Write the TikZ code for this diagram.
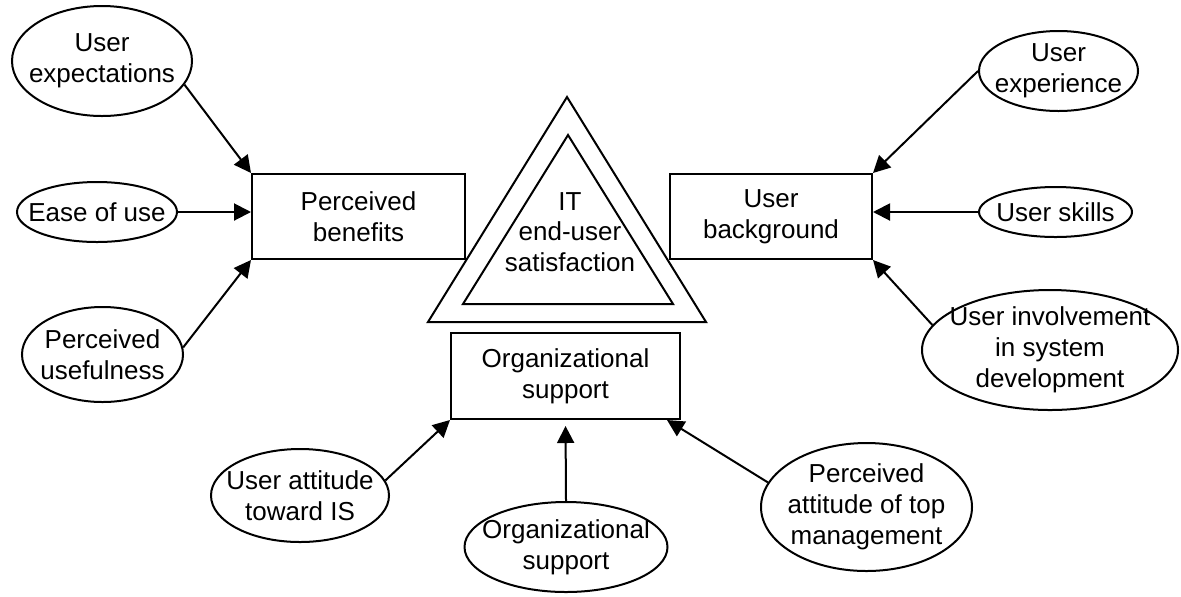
\documentclass[tikz,border=0pt]{standalone}
\usepackage{fontspec}
\setmainfont{Liberation Sans}
\usetikzlibrary{shapes.geometric,arrows.meta}

\begin{document}
\begin{tikzpicture}[x=0.5pt,y=-0.5pt,line width=1pt,
    font=\fontsize{13}{15.4}\selectfont,
    box/.style={draw,rectangle,align=center,inner sep=0pt},
    ell/.style={draw,ellipse,inner sep=0pt},
    every label/.style={align=center,inner sep=0pt,draw=none},
    arr/.style={-{Triangle[length=8.5pt,width=8.5pt]}}]
    \useasboundingbox (0,0) rectangle (1181,596);

    \draw (567,97) -- (428,322) -- (706,322) -- cycle;
    \draw (568,135) -- (463,304) -- (673,304) -- cycle;
    \node[align=center] (sat) at (570,232) {IT\\end-user\\satisfaction};

    \node[box,minimum width=106.5pt,minimum height=42.5pt] (pb) at (358.5,216.5) {Perceived\\benefits};
    \node[box,minimum width=101pt,minimum height=42.5pt] (ub) at (771,216.5) {User\\background};
    \node[box,minimum width=114.5pt,minimum height=43pt] (ob) at (565.5,376) {Organizational\\support};

    \node[ell,minimum width=90pt,minimum height=55pt,label=center:{User\\expectations}] (ue) at (102,61) {};
    \node[ell,minimum width=80pt,minimum height=30pt,label=center:{Ease of use}] (eou) at (97,212) {};
    \node[ell,minimum width=80.5pt,minimum height=47.5pt,label=center:{Perceived\\usefulness}] (pu) at (102.5,354.5) {};
    \node[ell,minimum width=79.5pt,minimum height=40pt,label=center:{User\\experience}] (ux) at (1058.5,71) {};
    \node[ell,minimum width=76.5pt,minimum height=25pt,label=center:{User skills}] (us) at (1055.5,212) {};
    \node[ell,minimum width=128pt,minimum height=60pt,label=center:{User involvement\\in system\\development}] (ui) at (1050,350) {};
    \node[ell,minimum width=89pt,minimum height=46.5pt,label=center:{User attitude\\toward IS}] (ua) at (300,495.5) {};
    \node[ell,minimum width=101.5pt,minimum height=45pt,label=center:{Organizational\\support}] (os) at (566,547) {};
    \node[ell,minimum width=105.5pt,minimum height=64pt,label=center:{Perceived\\attitude of top\\management}] (pa) at (866.5,507) {};

    \draw[arr] (ue.-16) -- (pb.north west);
    \draw[arr] (eou.east) -- (pb.west |- eou.east);
    \draw[arr] (pu.5) -- (pb.south west);
    \draw[arr] (ux.west) -- (ub.north east);
    \draw[arr] (us.west) -- (ub.east |- us.west);
    \draw[arr] (ui.168) -- (ub.south east);
    \draw[arr] (ua.10) -- (ob.south west);
    \draw[arr,shorten >=3pt] (os.north) -- (ob.south);
    \draw[arr] (pa.166) -- ([xshift=-7pt]ob.south east);
\end{tikzpicture}
\end{document}
